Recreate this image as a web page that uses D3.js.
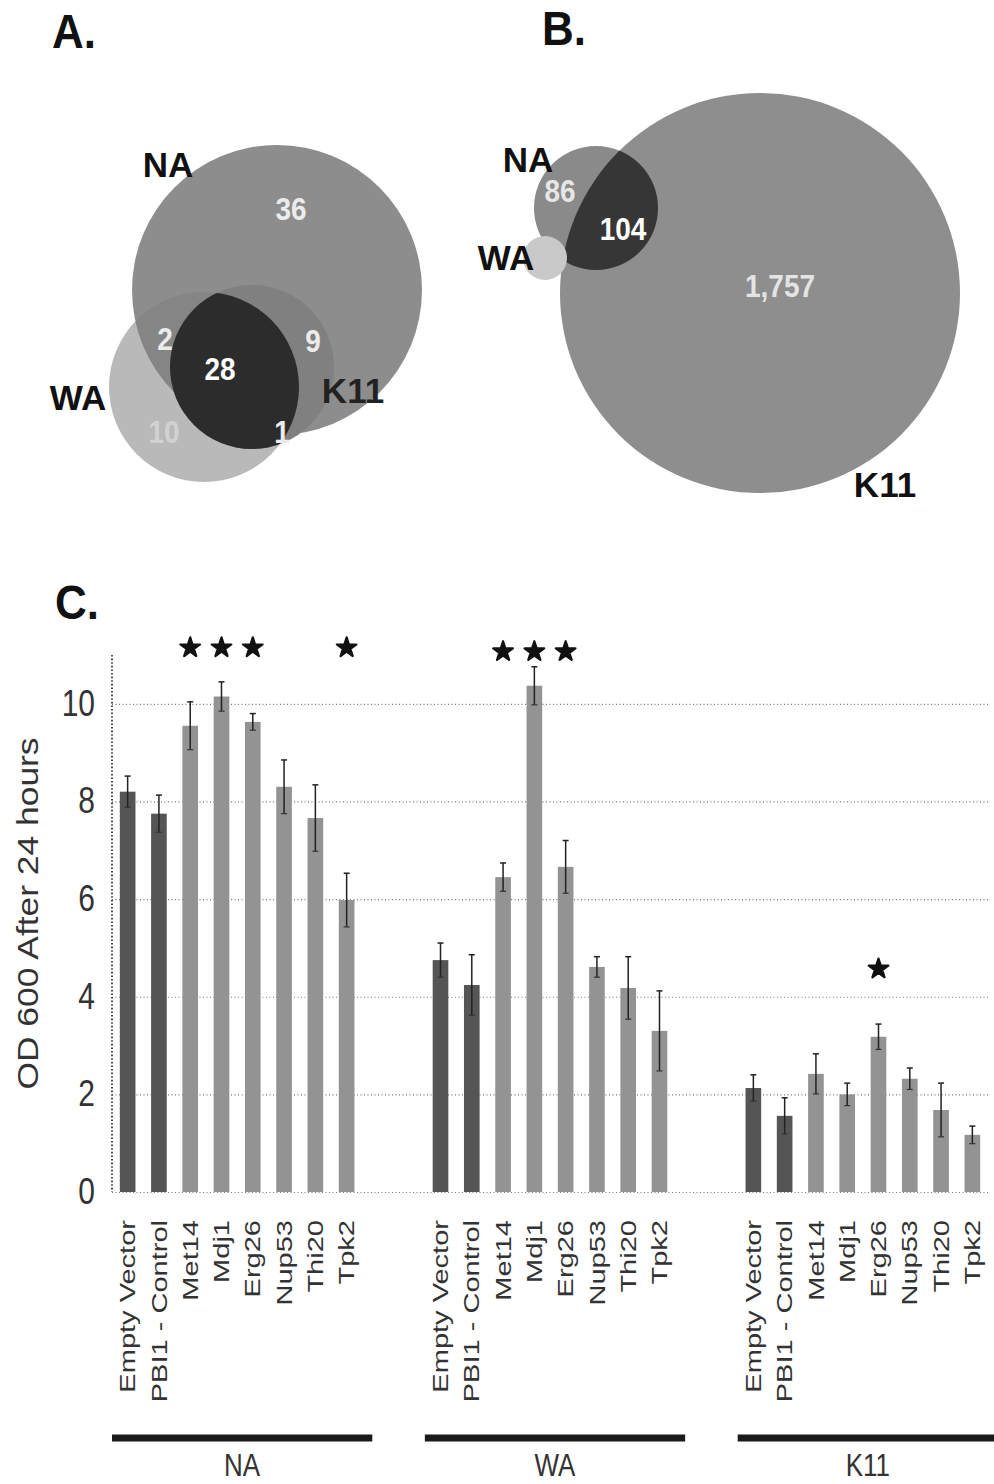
<!DOCTYPE html>
<html>
<head>
<meta charset="utf-8">
<script src="https://cdn.jsdelivr.net/npm/d3@7"></script>
<style>
  body { margin: 0; background: #fff; }
  text { font-family: 'Liberation Sans', Arial, sans-serif; }
</style>
</head>
<body>
<script>
// ---- data ----
var genes = ['Empty Vector', 'PBI1 - Control', 'Met14', 'Mdj1', 'Erg26', 'Nup53', 'Thi20', 'Tpk2'];
var strains = ['NA', 'WA', 'K11'];

var odNA  = [8.2, 7.75, 9.55, 10.15, 9.63, 8.3, 7.66, 5.98];
var errNA = [0.32, 0.38, 0.49, 0.30, 0.17, 0.55, 0.68, 0.55];
var odWA  = [4.75, 4.24, 6.45, 10.37, 6.66, 4.61, 4.18, 3.3];
var errWA = [0.35, 0.62, 0.29, 0.39, 0.54, 0.21, 0.64, 0.82];
var odK11  = [2.13, 1.56, 2.42, 2.0, 3.18, 2.32, 1.68, 1.17];
var errK11 = [0.27, 0.37, 0.41, 0.23, 0.26, 0.22, 0.55, 0.18];

var sigNA  = [0, 0, 1, 1, 1, 0, 0, 1];
var sigWA  = [0, 0, 1, 1, 1, 0, 0, 0];
var sigK11 = [0, 0, 0, 0, 1, 0, 0, 0];
var starLevel = [11.15, 11.07, 4.57];

var yTicks = [0, 2, 4, 6, 8, 10];
var yTitle = 'OD 600 After 24 hours';

// venn counts (A: NA only, WA only, NA&WA, NA&K11, WA&K11, all three)
var vennACounts = [36, 10, 2, 9, 1, 28];
// venn counts (B: NA only, NA&K11, K11 only)
var vennBCounts = [86, 104, 1757];

// ---- page ----
var W = 994, H = 1484;
var svg = d3.select('body').append('svg')
            .attr('width', W)
            .attr('height', H);

var defs = svg.append('defs');

function label(parent, x, y, txt, size, opt) {
  opt = opt || {};
  var t = 'translate(' + x + ',' + y + ') scale(1,' + (opt.sy || 1) + ')';
  if (opt.rot) t += ' rotate(' + opt.rot + ')';
  return parent.append('text')
               .attr('transform', t)
               .attr('text-anchor', opt.anchor || 'middle')
               .attr('font-size', size)
               .attr('font-weight', opt.bold ? 'bold' : 'normal')
               .attr('fill', opt.fill || '#111')
               .attr('dy', opt.dy || null)
               .text(txt);
}

// panel letters
label(svg, 52, 48, 'A.', 44, {anchor: 'start', bold: true, sy: 1.1});
label(svg, 542, 45, 'B.', 44, {anchor: 'start', bold: true, sy: 1.1});
label(svg, 55, 619, 'C.', 44, {anchor: 'start', bold: true, sy: 1.1});

// ---- venn A ----
var cA = {
  NA:  {cx: 277, cy: 290, r: 145},
  WA:  {cx: 204, cy: 387, r: 95},
  K11: {cx: 252, cy: 367, r: 82}
};
['NA', 'WA', 'K11'].forEach(function(k){
  defs.append('clipPath').attr('id', 'clipA' + k)
      .append('circle').attr('cx', cA[k].cx).attr('cy', cA[k].cy).attr('r', cA[k].r);
});
var gA = svg.append('g');
function circ(parent, c, fill) {
  return parent.append('circle').attr('cx', c.cx).attr('cy', c.cy).attr('r', c.r).style('fill', fill);
}
circ(gA, cA.WA, '#b9b9b9');
circ(gA, cA.NA, '#8d8d8d');
circ(gA.append('g').attr('clip-path', 'url(#clipANA)'), cA.WA, '#858585');
circ(gA, cA.K11, '#808080');
circ(gA.append('g').attr('clip-path', 'url(#clipAK11)'), cA.WA, '#2c2c2c');

label(gA, 168, 177, 'NA', 35, {bold: true});
label(gA, 78, 410, 'WA', 35, {bold: true});
label(gA, 353, 403, 'K11', 35, {bold: true, fill: '#222'});

var posA = [[291, 220], [164, 443], [165, 350], [313, 352], [282, 443], [220, 380]];
var fillA = ['#ececec', '#d2d2d2', '#ececec', '#ececec', '#ececec', '#ffffff'];
vennACounts.forEach(function(v, i){
  label(gA, posA[i][0], posA[i][1], v, 28, {bold: true, sy: 1.15, fill: fillA[i]});
});

// ---- venn B ----
var cB = {
  K11: {cx: 760, cy: 293, r: 200},
  NA:  {cx: 596, cy: 208, r: 62},
  WA:  {cx: 545, cy: 258, r: 22}
};
defs.append('clipPath').attr('id', 'clipBK11')
    .append('circle').attr('cx', cB.K11.cx).attr('cy', cB.K11.cy).attr('r', cB.K11.r);
var gB = svg.append('g');
circ(gB, cB.K11, '#8e8e8e');
circ(gB, cB.NA, '#8a8a8a');
circ(gB.append('g').attr('clip-path', 'url(#clipBK11)'), cB.NA, '#363636');
circ(gB, cB.WA, '#c9c9c9');

label(gB, 528, 172, 'NA', 35, {bold: true});
label(gB, 506, 270, 'WA', 35, {bold: true});
label(gB, 885, 497, 'K11', 35, {bold: true});

var posB = [[560, 202], [623, 240], [780, 297]];
var fillB = ['#e6e6e6', '#ffffff', '#e4e4e4'];
vennBCounts.forEach(function(v, i){
  label(gB, posB[i][0], posB[i][1], d3.format(',')(v), 28, {bold: true, sy: 1.15, fill: fillB[i]});
});

// ---- bar chart C ----
var plotL = 112, plotR = 988, plotT = 655, plotB = 1192;
var gapSlots = 2;
var nSlots = strains.length * genes.length + (strains.length - 1) * gapSlots;

var x = d3.scaleBand()
          .domain(d3.range(nSlots))
          .range([plotL, plotR])
          .paddingInner(0.5)
          .paddingOuter(0.25);
var y = d3.scaleLinear().domain([0, 11]).range([plotB, plotT]);

var odAll = [odNA, odWA, odK11];
var errAll = [errNA, errWA, errK11];
var sigAll = [sigNA, sigWA, sigK11];

var rows = [];
strains.forEach(function(s, g){
  genes.forEach(function(name, i){
    rows.push({
      g: g, i: i, name: name,
      slot: g * (genes.length + gapSlots) + i,
      v: odAll[g][i], e: errAll[g][i], sig: sigAll[g][i]
    });
  });
});

var chart = svg.append('g');

// gridlines
var grid = chart.append('g')
                .attr('transform', 'translate(' + plotL + ',0)')
                .call(d3.axisLeft(y).tickValues(yTicks).tickSize(-(plotR - plotL)).tickFormat(''));
grid.select('.domain').remove();
grid.selectAll('line')
    .attr('stroke', '#777')
    .attr('stroke-width', 1.2)
    .attr('stroke-dasharray', '1,2.5');

// y axis
var yAxis = chart.append('g')
                 .attr('transform', 'translate(' + plotL + ',0)')
                 .call(d3.axisLeft(y).tickValues(yTicks).tickSize(0).tickPadding(17));
yAxis.select('.domain').remove();
yAxis.selectAll('text')
     .attr('font-size', 30)
     .attr('fill', '#333')
     .attr('font-family', "'Liberation Sans', Arial, sans-serif")
     .attr('transform', 'scale(1,1.2)');

chart.append('line')
     .attr('x1', plotL).attr('x2', plotL)
     .attr('y1', plotT).attr('y2', plotB)
     .attr('stroke', '#222')
     .attr('stroke-width', 1.6)
     .attr('stroke-dasharray', '1.6,2');

label(chart, 27, (plotT + plotB) / 2 - 10, yTitle, 30, {rot: -90, sy: 1.18, dy: '0.35em', fill: '#333'});

// bars
chart.selectAll('rect.bar')
     .data(rows)
     .enter()
       .append('rect')
       .attr('class', 'bar')
       .attr('x', function(d){ return x(d.slot); })
       .attr('width', x.bandwidth())
       .attr('y', function(d){ return y(d.v); })
       .attr('height', function(d){ return y(0) - y(d.v); })
       .style('fill', function(d){ return d.i < 2 ? '#555' : '#939393'; });

// error bars
var eb = chart.selectAll('g.err')
              .data(rows)
              .enter()
                .append('g')
                .attr('class', 'err')
                .attr('transform', function(d){ return 'translate(' + (x(d.slot) + x.bandwidth() / 2) + ',0)'; });
eb.append('line')
  .attr('y1', function(d){ return y(d.v - d.e); })
  .attr('y2', function(d){ return y(d.v + d.e); })
  .attr('stroke', '#222').attr('stroke-width', 1.5);
eb.append('line')
  .attr('x1', -3).attr('x2', 3)
  .attr('y1', function(d){ return y(d.v + d.e); })
  .attr('y2', function(d){ return y(d.v + d.e); })
  .attr('stroke', '#222').attr('stroke-width', 1.5);
eb.append('line')
  .attr('x1', -3).attr('x2', 3)
  .attr('y1', function(d){ return y(d.v - d.e); })
  .attr('y2', function(d){ return y(d.v - d.e); })
  .attr('stroke', '#333').attr('stroke-width', 1.2);

// significance stars
chart.selectAll('path.star')
     .data(rows.filter(function(d){ return d.sig; }))
     .enter()
       .append('path')
       .attr('class', 'star')
       .attr('d', d3.symbol().type(d3.symbolStar).size(120))
       .attr('transform', function(d){
         return 'translate(' + (x(d.slot) + x.bandwidth() / 2) + ',' + y(starLevel[d.g]) + ')';
       })
       .style('fill', '#111')
       .style('stroke', '#111')
       .style('stroke-width', 2.2)
       .style('stroke-linejoin', 'round');

// category labels
rows.forEach(function(d){
  label(chart, x(d.slot) + x.bandwidth() / 2, 1220, d.name, 22,
        {anchor: 'end', rot: -90, sy: 1.32, dy: '0.35em', fill: '#333'});
});

// group underlines + names
strains.forEach(function(s, g){
  var s0 = g * (genes.length + gapSlots);
  var x0 = x(s0) - x.step() * 0.25;
  var x1 = x0 + x.step() * genes.length + 10;
  chart.append('line')
       .attr('x1', x0).attr('x2', x1)
       .attr('y1', 1438).attr('y2', 1438)
       .attr('stroke', '#1a1a1a')
       .attr('stroke-width', 7);
  label(chart, (x0 + x1) / 2, 1476, s, 26, {sy: 1.2, fill: '#333'});
});
</script>
</body>
</html>
